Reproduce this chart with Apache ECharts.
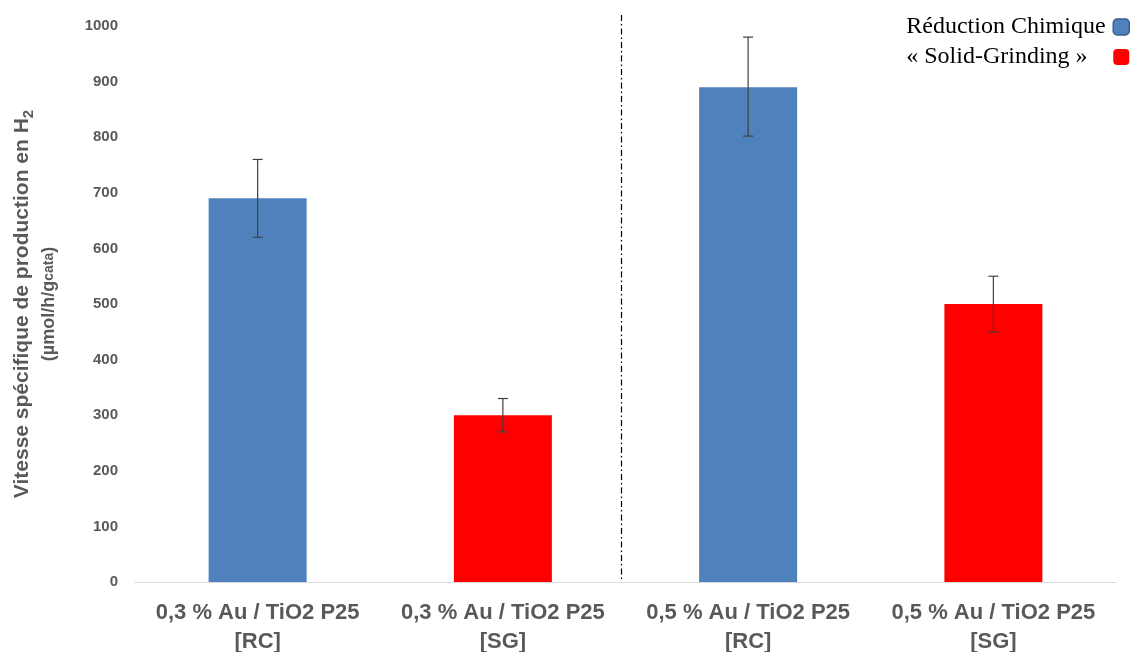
<!DOCTYPE html>
<html><head><meta charset="utf-8">
<script src="https://cdn.jsdelivr.net/npm/echarts@6/dist/echarts.min.js"></script>
<style>html,body{margin:0;padding:0;background:#fff}#c{width:1132px;height:652px}</style>
</head><body><div id="c"></div>
<script>
const categories = ['0,3 % Au / TiO2 P25\n[RC]', '0,3 % Au / TiO2 P25\n[SG]', '0,5 % Au / TiO2 P25\n[RC]', '0,5 % Au / TiO2 P25\n[SG]'];
const seriesNames = ['Réduction Chimique', '« Solid-Grinding »'];
const rcValues = [690, '-', 890, '-'];
const sgValues = ['-', 300, '-', 500];
const errLow = [620, 270, 802, 450];
const errHigh = [760, 330, 980, 550];
const yTicks = {min: 0, max: 1000, interval: 100};
const separatorTop = 1020;

const chart = echarts.init(document.getElementById('c'));
const errData = categories.map((c, i) => [i, errLow[i], errHigh[i]]);
const gray = '#595959';
chart.setOption({
  animation: false,
  grid: {left: 135, right: 16, top: 26, bottom: 70, outerBoundsMode: 'none', containLabel: false},
  legend: {
    orient: 'vertical', right: 2, top: 15, align: 'right', itemGap: 6, padding: 0,
    itemWidth: 16, itemHeight: 16, icon: 'roundRect',
    formatter: '{a|{name}}',
    textStyle: {fontFamily: 'Liberation Serif', fontSize: 24, color: '#000',
      rich: {a: {width: 202, align: 'left', fontFamily: 'Liberation Serif', fontSize: 24, color: '#000'}}},
    data: [
      {name: seriesNames[0], itemStyle: {color: '#4f81bd', borderColor: '#385d8a', borderWidth: 1.5}},
      {name: seriesNames[1], itemStyle: {color: '#ff0000'}}
    ]
  },
  xAxis: {
    type: 'category', data: categories,
    axisLine: {lineStyle: {color: '#d9d9d9', width: 1}},
    axisTick: {show: false},
    axisLabel: {color: gray, fontFamily: 'Liberation Sans', fontWeight: 'bold', fontSize: 22, lineHeight: 29, margin: 16, interval: 0}
  },
  yAxis: {
    type: 'value', min: yTicks.min, max: yTicks.max, interval: yTicks.interval,
    axisLine: {show: false}, axisTick: {show: false}, splitLine: {show: false},
    axisLabel: {color: gray, fontFamily: 'Liberation Sans', fontWeight: 'bold', fontSize: 15, margin: 17,
      formatter: function (v) { return String(v); }},
    name: '{t|Vitesse spécifique de production en H}{ts|2}\n{u|(µmol/h/g}{us|cata}{u|)}',
    nameLocation: 'middle', nameGap: 72,
    nameTextStyle: {
      rich: {
        t: {fontFamily: 'Liberation Sans', fontWeight: 'bold', fontSize: 21, color: gray, lineHeight: 27},
        ts: {fontFamily: 'Liberation Sans', fontWeight: 'bold', fontSize: 15, color: gray, lineHeight: 27, verticalAlign: 'bottom'},
        u: {fontFamily: 'Liberation Sans', fontWeight: 'bold', fontSize: 18, color: gray, lineHeight: 27},
        us: {fontFamily: 'Liberation Sans', fontWeight: 'bold', fontSize: 14, color: gray, lineHeight: 27}
      }
    }
  },
  series: [
    {name: seriesNames[0], type: 'bar', data: rcValues, barWidth: 98, barGap: '-100%', itemStyle: {color: '#4f81bd'}},
    {name: seriesNames[1], type: 'bar', data: sgValues, barWidth: 98, barGap: '-100%', itemStyle: {color: '#ff0000'}},
    {
      type: 'custom', data: errData, z: 10, silent: true,
      renderItem: function (params, api) {
        const x = api.value(0);
        const lo = api.coord([x, api.value(1)]);
        const hi = api.coord([x, api.value(2)]);
        const cw = 5;
        const st = {stroke: '#404040', lineWidth: 1.2};
        return {type: 'group', children: [
          {type: 'line', shape: {x1: lo[0], y1: lo[1], x2: hi[0], y2: hi[1]}, style: st},
          {type: 'line', shape: {x1: lo[0] - cw, y1: lo[1], x2: lo[0] + cw, y2: lo[1]}, style: st},
          {type: 'line', shape: {x1: hi[0] - cw, y1: hi[1], x2: hi[0] + cw, y2: hi[1]}, style: st}
        ]};
      }
    },
    {
      type: 'custom', data: [[1, 2]], z: 5, silent: true, clip: false,
      renderItem: function (params, api) {
        const a = api.coord([api.value(0), 0]);
        const b = api.coord([api.value(1), 0]);
        const t = api.coord([api.value(0), separatorTop]);
        const x = (a[0] + b[0]) / 2 - 4;
        return {type: 'line', shape: {x1: x, y1: t[1], x2: x, y2: a[1]},
          style: {stroke: '#000', lineWidth: 1.2, lineDash: [6, 3, 1.5, 3]}};
      }
    }
  ]
});
</script></body></html>
